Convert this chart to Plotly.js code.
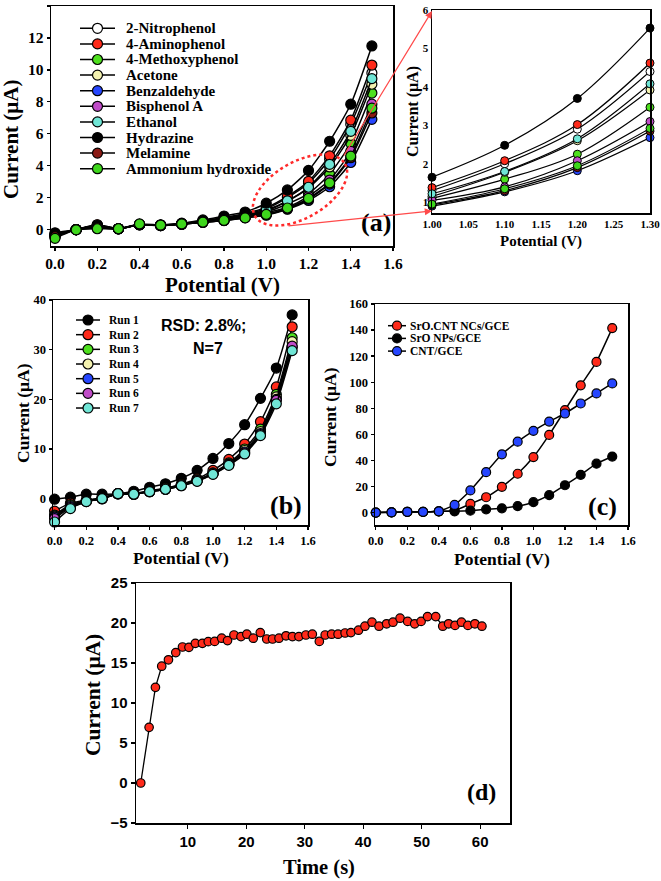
<!DOCTYPE html>
<html><head><meta charset="utf-8">
<script src="https://cdn.plot.ly/plotly-3.0.1.min.js"></script>
<style>html,body{margin:0;padding:0;background:#fff}#chart{width:661px;height:881px}</style>
</head><body><div id="chart"></div>
<script>
// ---------------- DATA ----------------
const potential = [0,0.1,0.2,0.3,0.4,0.5,0.6,0.7,0.8,0.9,1.0,1.1,1.2,1.3,1.4,1.5];

// Panel (a): selectivity (current, µA)
const analytes = ['2-Nitrophenol','4-Aminophenol','4-Methoxyphenol','Acetone','Benzaldehyde','Bisphenol A','Ethanol','Hydrazine','Melamine','Ammonium hydroxide'];
const analyteColors = ['#ffffff','#ff2a1a','#4ee01e','#f4f2b0','#2646ff','#c04cc8','#70e6d6','#000000','#8a1a14','#3ed61c'];
const nitrophenol   = [-0.30,0.00,0.30,0.05,0.30,0.27,0.37,0.52,0.72,0.95,1.30,2.00,2.90,4.40,6.60,9.80];
const aminophenol   = [-0.30,0.00,0.30,0.05,0.30,0.28,0.38,0.55,0.75,1.00,1.38,2.08,3.02,4.62,6.85,10.30];
const methoxyphenol = [-0.40,0.00,0.20,0.05,0.30,0.25,0.34,0.48,0.62,0.82,1.10,1.60,2.25,3.47,5.40,8.55];
const acetone       = [-0.35,0.00,0.25,0.05,0.30,0.26,0.35,0.50,0.66,0.88,1.15,1.78,2.60,3.92,5.90,9.10];
const benzaldehyde  = [-0.45,0.00,0.10,0.05,0.32,0.25,0.33,0.45,0.56,0.74,0.90,1.27,1.82,2.68,4.20,6.90];
const bisphenolA    = [-0.40,0.00,0.15,0.05,0.32,0.25,0.34,0.46,0.60,0.78,1.05,1.40,2.08,3.10,4.90,7.85];
const ethanol       = [-0.35,0.00,0.25,0.05,0.30,0.26,0.35,0.50,0.68,0.90,1.22,1.80,2.65,4.08,6.15,9.45];
const hydrazine     = [-0.20,0.00,0.25,0.05,0.30,0.30,0.40,0.60,0.85,1.10,1.65,2.48,3.70,5.53,7.85,11.50];
const melamine      = [-0.45,0.00,0.10,0.05,0.32,0.25,0.33,0.45,0.57,0.75,0.93,1.30,1.90,2.85,4.50,7.30];
const ammonium      = [-0.55,-0.02,0.05,0.05,0.35,0.28,0.35,0.46,0.57,0.73,0.95,1.35,1.95,2.92,4.60,7.60];
const analyteData = [nitrophenol,aminophenol,methoxyphenol,acetone,benzaldehyde,bisphenolA,ethanol,hydrazine,melamine,ammonium];

// Panel (b): reproducibility
const runNames  = ['Run 1','Run 2','Run 3','Run 4','Run 5','Run 6','Run 7'];
const runColors = ['#000000','#ff2a1a','#4ee01e','#f4f2b0','#2646ff','#c04cc8','#70e6d6'];
const run1 = [-0.1,0.3,0.9,0.9,1.0,1.5,2.3,3.0,4.1,5.7,8.1,11.1,14.9,20.2,26.3,37.0];
const run2 = [-2.5,-0.9,-0.3,0.2,1.0,1.0,1.6,2.1,2.9,4.0,5.7,7.9,11.0,15.5,22.5,34.6];
const run3 = [-3.3,-1.2,-0.4,0.1,1.0,1.0,1.5,2.0,2.8,3.8,5.2,7.2,10.0,14.0,21.0,32.4];
const run4 = [-3.5,-1.4,-0.5,0.0,1.0,0.9,1.5,2.0,2.7,3.7,5.1,7.0,9.7,13.5,20.5,31.6];
const run5 = [-3.7,-1.6,-0.5,0.0,1.0,0.9,1.4,1.9,2.7,3.6,5.0,6.9,9.4,13.1,20.0,30.5];
const run6 = [-4.0,-1.8,-0.6,0.0,1.0,0.9,1.4,1.9,2.6,3.6,5.0,6.8,9.2,12.9,19.8,30.7];
const run7 = [-4.7,-2.0,-0.6,0.0,1.0,0.9,1.4,1.9,2.6,3.5,4.9,6.7,9.0,12.7,19.1,29.8];
const runData = [run1,run2,run3,run4,run5,run6,run7];

// Panel (c): electrode comparison
const electrodeNames  = ['SrO.CNT NCs/GCE','SrO NPs/GCE','CNT/GCE'];
const electrodeColors = ['#ff2a1a','#000000','#2646ff'];
const srocnt = [0,0.2,0.5,0.5,1.0,1.5,6.7,11.8,19.8,29.8,42.6,59.6,78.6,97.6,115.6,141.5];
const sronp  = [0,0.2,0.5,0.5,1.0,1.0,1.5,2.5,3.3,5.0,8.0,13.4,21.0,29.0,37.5,43.0];
const cnt    = [0,0.2,0.6,0.6,1.0,5.9,17.0,31.0,44.7,54.4,62.7,69.8,76.0,83.7,91.4,99.1];
const electrodeData = [srocnt,sronp,cnt];

// Panel (d): current vs time
const timeS = [1.96,3.39,4.47,5.55,6.7,7.95,9.1,10.2,11.3,12.5,13.5,14.6,15.8,16.8,17.9,19.1,20.1,21.2,22.4,23.5,24.5,25.6,26.8,27.9,29.0,30.2,31.3,32.5,33.5,34.6,35.7,36.9,37.9,39.2,40.3,41.5,42.7,44.0,45.1,46.3,47.6,48.8,49.9,51.0,52.4,53.6,54.6,55.7,56.8,57.9,59.1,60.3];
const currentT = [0,6.96,11.96,14.6,15.4,16.3,17.0,16.96,17.46,17.46,17.67,17.7,18.1,17.8,18.5,18.3,18.6,18.1,18.8,18.0,18.0,18.1,18.4,18.3,18.3,18.5,18.6,17.7,18.5,18.6,18.6,18.75,18.8,19.1,19.6,20.1,19.6,19.9,20.1,20.6,20.2,19.9,20.2,20.8,20.8,19.6,19.9,19.7,20.1,19.7,19.9,19.6];

// ---------------- LAYOUT HELPERS ----------------
const W = 661, H = 881;
const PX = x => x / W, PY = y => 1 - y / H;
const SERIF = 'Liberation Serif, Times New Roman, serif';
const SANS = 'Liberation Sans, Arial, sans-serif';

function axis(dom, range, extra) {
  return Object.assign({
    domain: dom, range: range, showline: true, mirror: true, linecolor: '#000', linewidth: 1.5,
    ticks: 'outside', ticklen: 3, tickwidth: 1.3, tickcolor: '#000', showgrid: false, zeroline: false,
    tickfont: {family: SERIF, size: 13, color: '#000', weight: 'bold'}
  }, extra || {});
}
const hd = (a, b) => [PX(a), PX(b)];
const vd = (top, bottom) => [PY(bottom), PY(top)];

const traces = [];
const lineStyle = {color: '#000', width: 1.5, shape: 'spline', smoothing: 0.6};
analyteData.forEach((d, i) => {
  traces.push({x: potential, y: d, xaxis: 'x', yaxis: 'y', mode: 'lines+markers', name: analytes[i],
    line: lineStyle, marker: {size: 10, color: analyteColors[i], line: {color: '#000', width: 1.2}},
    cliponaxis: false, showlegend: false});
});
analyteData.forEach((d, i) => {
  traces.push({x: potential.slice(10, 14), y: d.slice(10, 14), xaxis: 'x2', yaxis: 'y2', mode: 'lines+markers', name: analytes[i],
    line: {color: '#000', width: 1.2, shape: 'spline'}, marker: {size: 8, color: analyteColors[i], line: {color: '#000', width: 1}},
    cliponaxis: false, showlegend: false});
});
runData.forEach((d, i) => {
  traces.push({x: potential, y: d, xaxis: 'x3', yaxis: 'y3', mode: 'lines+markers', name: runNames[i],
    line: lineStyle, marker: {size: 10, color: runColors[i], line: {color: '#000', width: 1.2}},
    cliponaxis: false, showlegend: false});
});
electrodeData.forEach((d, i) => {
  traces.push({x: potential, y: d, xaxis: 'x4', yaxis: 'y4', mode: 'lines+markers', name: electrodeNames[i],
    line: {color: '#000', width: 1.5, shape: 'spline', smoothing: 0.4}, marker: {size: 9, color: electrodeColors[i], line: {color: '#000', width: 1.2}},
    cliponaxis: false, showlegend: false});
});
traces.push({x: timeS, y: currentT, xaxis: 'x5', yaxis: 'y5', mode: 'lines+markers', name: 'i-t',
  line: {color: '#000', width: 1.3}, marker: {size: 8.5, color: '#ff2a1a', line: {color: '#000', width: 1.2}},
  cliponaxis: false, showlegend: false});

const shapes = [], annotations = [];
function legend(names, colors, x0, x1, r, tx, y0, dy, fsize) {
  names.forEach((n, i) => {
    const cy = y0 + i * dy, cx = (x0 + x1) / 2;
    shapes.push({type: 'line', xref: 'paper', yref: 'paper', x0: PX(x0), x1: PX(x1), y0: PY(cy), y1: PY(cy), line: {color: '#000', width: 1.5}});
    shapes.push({type: 'circle', xref: 'paper', yref: 'paper', x0: PX(cx - r), x1: PX(cx + r), y0: PY(cy + r), y1: PY(cy - r),
      fillcolor: colors[i], line: {color: '#000', width: 1.2}});
    annotations.push({xref: 'paper', yref: 'paper', x: PX(tx), y: PY(cy), xanchor: 'left', yanchor: 'middle', showarrow: false,
      text: n, font: {family: SERIF, size: fsize, color: '#000', weight: 'bold'}});
  });
}
legend(analytes, analyteColors, 80, 115, 5, 124, 28.3, 15.6, 15);
legend(runNames, runColors, 76, 100, 5, 107, 320, 14.67, 11.5);
legend(electrodeNames, electrodeColors, 388, 406, 4.5, 408, 325.7, 12.7, 11.5);

function txt(t, x, y, size, fam, rot) {
  annotations.push({xref: 'paper', yref: 'paper', x: PX(x), y: PY(y), xanchor: 'center', yanchor: 'middle', showarrow: false,
    text: t, textangle: rot || 0, font: {family: fam || SERIF, size: size, color: '#000', weight: 'bold'}});
}
// axis titles
txt('Potential (V)', 222, 285, 21); txt('Current (μA)', 11, 140, 21, SERIF, -90);
txt('Potential (V)', 541, 241, 15); txt('Current (μA)', 413, 112, 16, SERIF, -90);
txt('Potential (V)', 181, 558, 17.5); txt('Current (μA)', 23, 413, 17.5, SERIF, -90);
txt('Potential (V)', 502, 559, 17.5); txt('Current (μA)', 330, 417, 17.5, SERIF, -90);
txt('Time (s)', 319, 867, 20.5); txt('Current (μA)', 93, 695, 21.5, SERIF, -90);
// panel labels
txt('(a)', 376, 223, 26); txt('(b)', 286, 505, 26); txt('(c)', 602, 507, 26); txt('(d)', 481, 792, 24);
txt('RSD: 2.8%;', 203, 326, 16, SANS); txt('N=7', 208, 348, 16, SANS);

// dotted ellipse highlighting the zoomed region
(function () {
  const cx = 300, cy = 190, a = 52, b = 28, th = -30 * Math.PI / 180;
  let p = '';
  for (let k = 0; k <= 72; k++) {
    const t = 2 * Math.PI * k / 72;
    const ex = cx + a * Math.cos(t) * Math.cos(th) - b * Math.sin(t) * Math.sin(th);
    const ey = cy + a * Math.cos(t) * Math.sin(th) + b * Math.sin(t) * Math.cos(th);
    p += (k ? ' L' : 'M') + PX(ex).toFixed(5) + ',' + PY(ey).toFixed(5);
  }
  shapes.push({type: 'path', xref: 'paper', yref: 'paper', path: p + ' Z', line: {color: '#ff2a2a', width: 2.5, dash: 'dot'}});
})();
// arrows to the inset
annotations.push({xref: 'paper', yref: 'paper', x: PX(432), y: PY(11), ax: -89, ay: 146, text: '', showarrow: true,
  arrowcolor: '#ff4a4a', arrowwidth: 1.2, arrowhead: 2, arrowsize: 1.2});
annotations.push({xref: 'paper', yref: 'paper', x: PX(432), y: PY(211), ax: -145, ay: 15, text: '', showarrow: true,
  arrowcolor: '#ff4a4a', arrowwidth: 1.2, arrowhead: 2, arrowsize: 1.2});

const f = (s, fam) => ({family: fam || SERIF, size: s, color: '#000', weight: 'bold'});
const layout = {
  width: W, height: H, margin: {l: 0, r: 0, t: 0, b: 0}, paper_bgcolor: '#fff', plot_bgcolor: '#fff', showlegend: false,
  xaxis:  axis(hd(51, 393), [-0.019, 1.6], {anchor: 'y', dtick: 0.2, tick0: 0, tickformat: '.1f', tickfont: f(15.5)}),
  yaxis:  axis(vd(6, 246), [-1.03, 14], {anchor: 'x', dtick: 2, tick0: 0, tickfont: f(15.5)}),
  xaxis2: axis(hd(432, 650), [1.0, 1.3], {anchor: 'y2', dtick: 0.05, tick0: 1, tickformat: '.2f', tickfont: f(11), ticks: ''}),
  yaxis2: axis(vd(10, 213), [0.72, 6], {anchor: 'x2', dtick: 1, tick0: 0, tickfont: f(11), ticks: ''}),
  xaxis3: axis(hd(53, 308), [-0.01, 1.6], {anchor: 'y3', dtick: 0.2, tick0: 0, tickformat: '.1f', tickfont: f(12.5)}),
  yaxis3: axis(vd(300, 525), [-5.3, 40], {anchor: 'x3', dtick: 10, tick0: 0, tickfont: f(12.5)}),
  xaxis4: axis(hd(375, 628), [-0.005, 1.6], {anchor: 'y4', dtick: 0.2, tick0: 0, tickformat: '.1f', tickfont: f(12.5)}),
  yaxis4: axis(vd(304, 525), [-9.5, 160], {anchor: 'x4', dtick: 20, tick0: 0, tickfont: f(12.5)}),
  xaxis5: axis(hd(136, 510), [1.15, 65.1], {anchor: 'y5', dtick: 10, tick0: 0, tickfont: f(15, SANS), ticklen: 4}),
  yaxis5: axis(vd(583, 823), [-5, 25], {anchor: 'x5', dtick: 5, tick0: 0, tickfont: f(15, SANS), ticklen: 4}),
  shapes: shapes, annotations: annotations
};
Plotly.newPlot('chart', traces, layout, {staticPlot: true});
</script></body></html>
